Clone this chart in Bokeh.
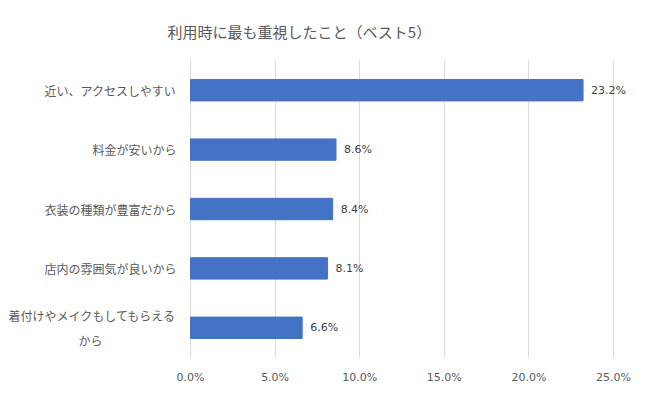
from bokeh.plotting import figure
from bokeh.models import FactorRange, Range1d, NumeralTickFormatter, ColumnDataSource, FixedTicker
from bokeh.core.properties import value
from bokeh.embed import file_html
from bokeh.resources import INLINE

title_text = "利用時に最も重視したこと（ベスト5）"
categories = ["近い、アクセスしやすい", "料金が安いから", "衣装の種類が豊富だから",
              "店内の雰囲気が良いから", "着付けやメイクもしてもらえるから"]
shares = [0.232, 0.086, 0.084, 0.081, 0.066]
x_ticks = [0.0, 0.05, 0.10, 0.15, 0.20, 0.25]

JP = "Noto Sans CJK JP"
TXT = "#595959"

# layout (pixels): the frame spans the whole figure width so labels are not clipped
W = 645
LEFT_PAD = 190     # px left of the 0% line
AXIS_PX = 423      # px from 0% to 25%
x_max = x_ticks[-1]
x_start = -x_max * LEFT_PAD / AXIS_PX
x_end = x_max * (W - LEFT_PAD) / AXIS_PX

p = figure(width=W, height=391, output_backend="svg", toolbar_location=None,
           y_range=FactorRange(factors=list(reversed(categories))),
           x_range=Range1d(x_start, x_end),
           frame_width=W, frame_height=297,
           min_border_left=0, min_border_right=0, min_border_top=58, min_border_bottom=32)
p.outline_line_color = None
p.title.text = title_text
p.title.text_font = JP
p.title.text_font_size = "15px"
p.title.text_font_style = "normal"
p.title.text_color = TXT
p.title.align = "left"
p.title.offset = 167
p.title.standoff = 37

src = ColumnDataSource(dict(cat=categories, val=shares,
                            lab=[f"{v*100:.1f}%" for v in shares]))
p.hbar(y="cat", right="val", left=0, height=0.36, source=src,
       fill_color="#4472C4", line_color="#4472C4")
p.text(x="val", y="cat", text="lab", source=src, x_offset=8,
       text_align="left", text_baseline="middle", text_font=value("DejaVu Sans"),
       text_font_size="11px", text_color="#404040")

# category labels (the last one wraps onto two lines, centred)
single = categories[:-1]
last = categories[-1]
p.text(x=[0] * len(single), y=single, text=single, x_offset=-14,
       text_align="right", text_baseline="middle", text_font=value(JP),
       text_font_size="12px", text_color=TXT)
p.text(x=[0], y=[last], text=[last[:-2]], x_offset=-14, y_offset=-12,
       text_align="right", text_baseline="middle", text_font=value(JP),
       text_font_size="12px", text_color=TXT)
p.text(x=[0], y=[last], text=[last[-2:]], x_offset=-100, y_offset=13,
       text_align="center", text_baseline="middle", text_font=value(JP),
       text_font_size="12px", text_color=TXT)

p.yaxis.visible = False
p.ygrid.grid_line_color = None

p.xaxis.ticker = FixedTicker(ticks=x_ticks)
p.xaxis.formatter = NumeralTickFormatter(format="0.0%")
p.xaxis.axis_line_color = None
p.xaxis.major_tick_line_color = None
p.xaxis.minor_tick_line_color = None
p.xaxis.major_label_text_font = "DejaVu Sans"
p.xaxis.major_label_text_font_size = "11px"
p.xaxis.major_label_text_color = TXT
p.xaxis.major_label_standoff = 7
p.xgrid.grid_line_color = "#D9D9D9"
p.xgrid.ticker = FixedTicker(ticks=x_ticks)

open("out.html", "w").write(file_html(p, INLINE))
